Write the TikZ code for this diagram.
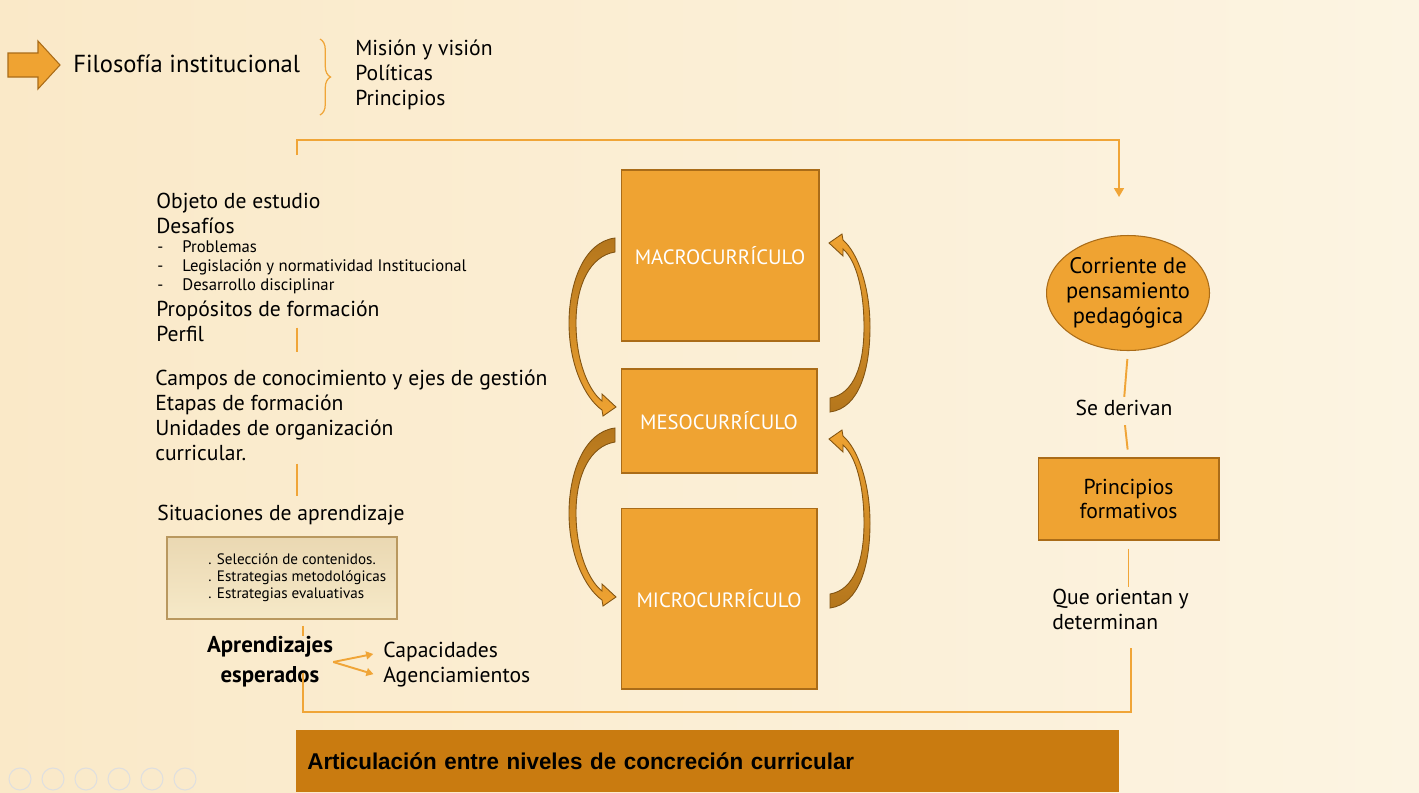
\documentclass[tikz,border=0pt]{standalone}
\usepackage{fontspec}
\setmainfont{PT Sans}
\newfontfamily\titlefont[FakeStretch=0.98]{Liberation Sans}
\usetikzlibrary{calc}
\usetikzlibrary{arrows.meta}
\usetikzlibrary{shapes.geometric}
\usetikzlibrary{decorations.pathreplacing}
\usetikzlibrary{fadings}

\definecolor{boxorange}{RGB}{239,163,50}
\definecolor{boxedge}{RGB}{170,108,24}
\definecolor{arrowdark}{RGB}{180,118,28}
\definecolor{arrowedge}{RGB}{130,84,18}
\definecolor{linkorange}{RGB}{240,165,55}
\definecolor{banner}{RGB}{201,123,16}
\definecolor{bgleft}{RGB}{250,233,200}
\definecolor{bgright}{RGB}{252,244,226}
\definecolor{bgband}{RGB}{248,228,190}
\definecolor{seltop}{RGB}{234,216,178}
\definecolor{selbottom}{RGB}{246,233,200}
\definecolor{seledge}{RGB}{185,152,95}

\tikzfading[name=bandfade, top color=transparent!100, middle color=transparent!0, bottom color=transparent!100]

\tikzset{
  level/.style={draw=boxedge, fill=boxorange, line width=0.6pt, text=white, font=\fontsize{11.8}{14}\selectfont, inner sep=0pt},
  link/.style={draw=linkorange, line width=1.1pt},
  body/.style={font=\fontsize{12.3}{14.2}\selectfont, inner sep=0pt, align=left},
  small/.style={font=\fontsize{9.5}{10.8}\selectfont, inner sep=0pt, align=left},
  curl/.style={draw=arrowedge, line width=0.5pt}
}

\begin{document}
\begin{tikzpicture}[x=0.02cm, y=-0.02cm]
\useasboundingbox (0,0) rectangle (1419,792);

% background
\shade[left color=bgleft, middle color=white, right color=bgright] (0,0) rectangle (1419,792);
\fill[bgband, path fading=bandfade, opacity=0.8] (0,520) rectangle (1419,680);

% heading
\filldraw[fill=boxorange, draw=boxedge, line width=0.6pt] (8,53) -- (38,53) -- (38,41) -- (60,65) -- (38,89) -- (38,77) -- (8,77) -- cycle;
\node[anchor=west, inner sep=0pt, font=\fontsize{14}{16}\selectfont] (filo) at (73,64) {Filosofía institucional};
\draw[linkorange, line width=0.7pt, decorate, decoration={brace, amplitude=6pt}] (320,39) -- (320,115);
\node[body, anchor=west] (mision) at (355,75) {Misión y visión\\Políticas\\Principios};

% left column
\node[body, anchor=west] (obj) at (156,213.5) {Objeto de estudio\\Desafíos};
\node[small, anchor=west] (chal) at (157,267) {\makebox[0.5cm][l]{-}Problemas\\\makebox[0.5cm][l]{-}Legislación y normatividad Institucional\\\makebox[0.5cm][l]{-}Desarrollo disciplinar};
\node[body, anchor=west] (prop) at (156,321) {Propósitos de formación\\Perfil};
\node[body, anchor=west] (camp) at (155,415) {Campos de conocimiento y ejes de gestión\\Etapas de formación\\Unidades de organización\\curricular.};
\node[body, anchor=west] (situ) at (157,515) {Situaciones de aprendizaje};
\node[draw=seledge, line width=1pt, top color=seltop, bottom color=selbottom, minimum width=4.6cm, minimum height=1.64cm, inner sep=0pt] (selbox) at (282,578) {};
\node[font=\fontsize{8.6}{9.6}\selectfont, inner sep=0pt, align=left, anchor=west] (seltext) at (208,578) {. Selección de contenidos.\\. Estrategias metodológicas\\. Estrategias evaluativas};
\node[font=\bfseries\fontsize{13}{17}\selectfont, inner sep=0pt, align=center] (aprend) at (270,662) {Aprendizajes\\esperados};
\node[body, anchor=west] (capa) at (383,652) {Capacidades};
\node[body, anchor=west] (agen) at (383,677) {Agenciamientos};

% levels
\node[level, minimum width=3.96cm, minimum height=3.42cm] (macro) at (720,255.5) {MACROCURRÍCULO};
\node[level, minimum width=3.92cm, minimum height=2.08cm] (meso) at (719,421) {MESOCURRÍCULO};
\node[level, minimum width=3.92cm, minimum height=3.62cm] (micro) at (719,598.5) {MICROCURRÍCULO};

% right column
\node[ellipse, draw=boxedge, fill=boxorange, line width=0.6pt, minimum width=3.26cm, minimum height=2.3cm, inner xsep=-0.14cm, inner ysep=0pt, align=center, font=\fontsize{12.8}{14.2}\selectfont] (corr) at (1128,293) {Corriente de\\pensamiento\\pedagógica};
\node[body] (deriv) at (1124,408) {Se derivan};
\node[draw=boxedge, fill=boxorange, line width=0.6pt, minimum width=3.62cm, minimum height=1.64cm, inner sep=0pt, align=center, font=\fontsize{12.3}{13.6}\selectfont] (princ) at (1128.5,499) {Principios\\formativos};
\node[body, anchor=west] (que) at (1052,609.5) {Que orientan y\\determinan};

% banner
\node[fill=banner, minimum width=16.46cm, minimum height=1.24cm, text width=16.02cm, inner xsep=0.22cm, inner ysep=0pt, align=left, anchor=north west, font=\titlefont\bfseries\fontsize{13}{15}\selectfont] (title) at (296,730) {Articulación entre niveles de concreción curricular};

% curved arrows between levels
\foreach \dy in {0,190}
\draw[curl, top color=arrowdark, bottom color=boxorange, shift={(0,\dy)}] (615,238) .. controls (583,242) and (569,285) .. (569,323) .. controls (569,365) and (585,398) .. (602,410) -- (603,416) -- (616,407) -- (602,394) -- (602,401) .. controls (589,391) and (576,362) .. (576,323) .. controls (576,285) and (590,256) .. (615,252) -- cycle;
\foreach \dy in {0,196}
\draw[curl, top color=boxorange, bottom color=arrowdark, shift={(0,\dy)}] (830,412) .. controls (860,408) and (870,368) .. (870,327) .. controls (870,287) and (858,253) .. (843,240) -- (842,234) -- (829,243) -- (843,256) -- (843,249) .. controls (856,260) and (864,290) .. (864,327) .. controls (864,365) and (854,394) .. (830,398) -- cycle;

% connectors
\coordinate (spine) at (297,0);
\coordinate (spinetwo) at (303,0);
\coordinate (topleft) at (297,155);
\coordinate (topright) at (1119,140);
\coordinate (botright) at (1131,712);
\draw[link, -{Triangle[length=5pt, width=5.5pt]}, shorten >=0.76cm] (topleft) |- (topright) -- (topright |- corr.north);
\draw[link] ([yshift=0.28cm]prop.south -| spine) -- ([yshift=0.34cm]camp.north -| spine);
\draw[link] ([yshift=-0.06cm]camp.south -| spine) -- ([yshift=0.18cm]situ.north -| spine);
\draw[link, shorten <=0.12cm] (selbox.south -| spinetwo) -- (aprend.north -| spinetwo);
\draw[link] ([yshift=0.3cm]aprend.south -| spinetwo) |- (botright) -- ([yshift=-0.36cm]que.south -| botright);
\draw[link, -{Triangle[length=4pt, width=4.5pt]}, shorten >=0.2cm] (aprend.east) -- (capa.west);
\draw[link, -{Triangle[length=4pt, width=4.5pt]}, shorten >=0.2cm] (aprend.east) -- (agen.west);
\draw[link, shorten <=0.16cm, shorten >=0.06cm] (corr.south) -- (deriv.north);
\draw[link, shorten <=0.18cm, shorten >=0.16cm] (deriv.south) -- (princ.north);
\draw[link, shorten <=0.16cm, shorten >=0.04cm] (princ.south) -- (que.north -| princ.south);

% slide controls
\foreach \i in {0,...,5}
\draw[gray!25, line width=0.6pt] ({20+\i*33},779) circle (0.22cm);

\end{tikzpicture}
\end{document}
